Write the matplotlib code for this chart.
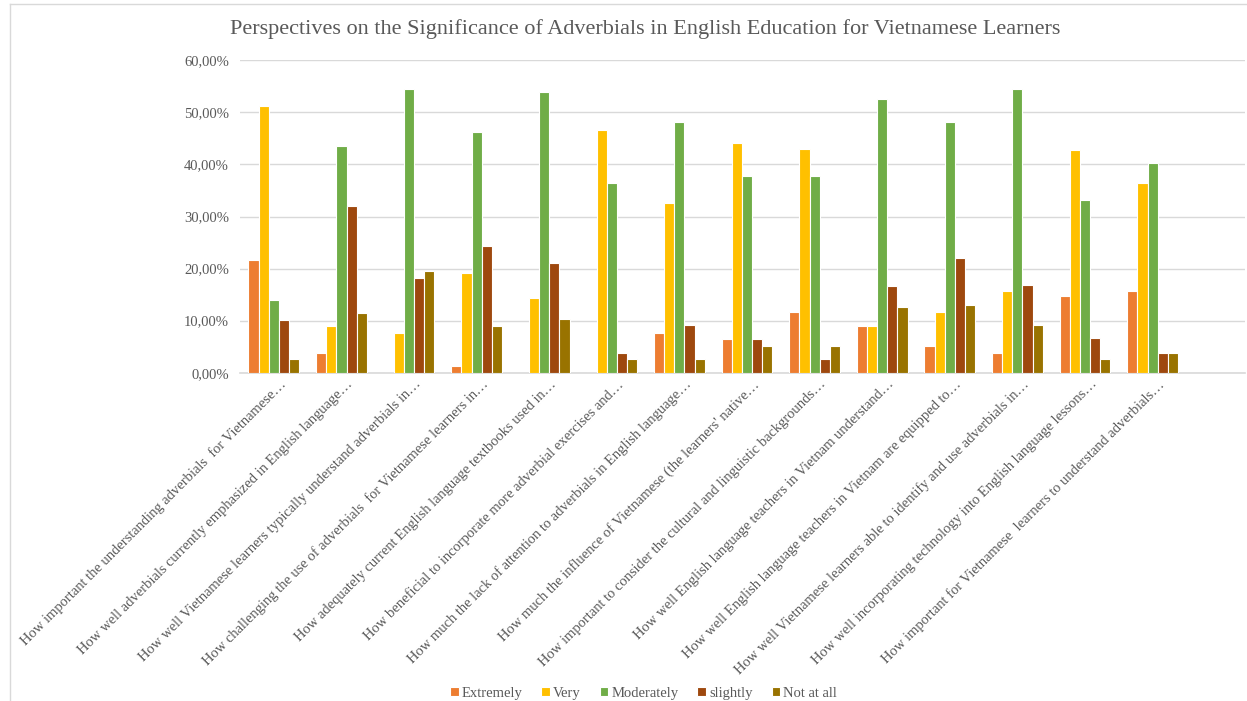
import numpy as np
import matplotlib
matplotlib.use("Agg")
import matplotlib.pyplot as plt
import matplotlib.transforms as mtransforms
from matplotlib.ticker import FuncFormatter

plt.rcParams['font.family'] = ['Liberation Serif', 'DejaVu Serif']

questions = [
    "How important the understanding adverbials  for Vietnamese\u2026",
    "How well adverbials currently emphasized in English language\u2026",
    "How well Vietnamese learners typically understand adverbials in\u2026",
    "How challenging the use of adverbials  for Vietnamese learners in\u2026",
    "How adequately current English language textbooks used in\u2026",
    "How beneficial to incorporate more adverbial exercises and\u2026",
    "How much the lack of attention to adverbials in English language\u2026",
    "How much the influence of Vietnamese (the learners' native\u2026",
    "How important to consider the cultural and linguistic backgrounds\u2026",
    "How well English language teachers in Vietnam understand\u2026",
    "How well English language teachers in Vietnam are equipped to\u2026",
    "How well Vietnamese learners able to identify and use adverbials in\u2026",
    "How well incorporating technology into English language lessons\u2026",
    "How important for Vietnamese  learners to understand adverbials\u2026",
]

# percentages
extremely  = [21.7, 3.7, 0.0, 1.2, 0.0, 0.0, 7.7, 6.5, 11.7, 9.0, 5.2, 3.8, 14.7, 15.6]
very       = [51.3, 9.0, 7.7, 19.1, 14.4, 46.7, 32.5, 44.2, 42.9, 9.0, 11.7, 15.6, 42.7, 36.4]
moderately = [14.0, 43.5, 54.5, 46.2, 53.9, 36.4, 48.1, 37.7, 37.7, 52.6, 48.1, 54.5, 33.2, 40.3]
slightly   = [10.2, 32.0, 18.2, 24.3, 21.0, 3.8, 9.1, 6.5, 2.6, 16.6, 22.1, 16.9, 6.6, 3.8]
not_at_all = [2.6, 11.4, 19.5, 9.0, 10.4, 2.6, 2.6, 5.2, 5.2, 12.7, 13.0, 9.1, 2.6, 3.8]

series = [
    ("Extremely", extremely, "#ED7D31"),
    ("Very", very, "#FFC000"),
    ("Moderately", moderately, "#70AD47"),
    ("slightly", slightly, "#9E480E"),
    ("Not at all", not_at_all, "#997300"),
]

grey = "#595959"
fig = plt.figure(figsize=(12.47, 7.01), dpi=100)
ax = fig.add_axes([0.1925, 0.4683, 0.8055, 0.4457])

x = np.arange(len(questions))
w = 0.15
for k, (name, vals, col) in enumerate(series):
    ax.bar(x + (k - 2) * w, np.array(vals) / 100, width=w, color=col,
           edgecolor="white", linewidth=0.8, label=name, zorder=3)

ax.set_ylim(0, 0.6)
ax.set_xlim(-0.5, 14.36)
ax.set_yticks(np.arange(0, 0.61, 0.1))
ax.yaxis.set_major_formatter(FuncFormatter(lambda v, p: f"{v*100:.2f}%".replace(".", ",")))
ax.grid(axis="y", color="#d9d9d9", linewidth=1, zorder=0)
for s in ["top", "right", "left"]:
    ax.spines[s].set_visible(False)
ax.spines["bottom"].set_color("#d9d9d9")
ax.spines["bottom"].set_linewidth(1.2)
ax.tick_params(axis="both", length=0, colors=grey, labelsize=10.5)
ax.tick_params(axis="y", pad=8)

ax.set_xticks(x)
ax.set_xticklabels(questions, rotation=45, ha="right", rotation_mode="anchor",
                   fontsize=10.5, color=grey)
shift = mtransforms.ScaledTranslation(5 / 100, 0, fig.dpi_scale_trans)
for lab in ax.get_xticklabels():
    lab.set_transform(lab.get_transform() + shift)

fig.text(0.5175, 0.958, "Perspectives on the Significance of Adverbials in English Education for Vietnamese Learners",
         ha="center", va="center", fontsize=16, color=grey)

ax.legend(loc="center", bbox_to_anchor=(0.516, 0.011), bbox_transform=fig.transFigure,
          ncol=5, frameon=False, fontsize=10.5, handlelength=0.6, handleheight=0.6,
          handletextpad=0.2, columnspacing=1.3, labelcolor=grey)

# chart frame lines (left and top)
fig.add_artist(plt.Line2D([0.008, 0.008], [0, 0.995], transform=fig.transFigure,
                          color="#d9d9d9", linewidth=1))
fig.add_artist(plt.Line2D([0.008, 1.0], [0.995, 0.995], transform=fig.transFigure,
                          color="#d9d9d9", linewidth=1))

fig.savefig("out.png", dpi=100)
